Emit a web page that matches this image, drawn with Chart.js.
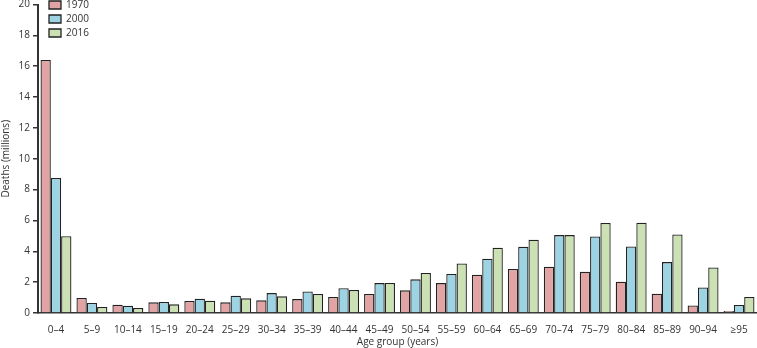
<!DOCTYPE html>
<html>
<head>
<meta charset="utf-8">
<script src="https://cdn.jsdelivr.net/npm/chart.js@4/dist/chart.umd.min.js"></script>
<style>
html,body{margin:0;padding:0;background:#fff;}
#wrap{width:757px;height:348px;position:relative;}
</style>
</head>
<body>
<div id="wrap"><canvas id="c" width="757" height="348"></canvas></div>
<script>
const categories = ["0–4","5–9","10–14","15–19","20–24","25–29","30–34","35–39","40–44","45–49","50–54","55–59","60–64","65–69","70–74","75–79","80–84","85–89","90–94","≥95"];
const deaths1970 = [16.4,0.97,0.54,0.69,0.78,0.69,0.82,0.90,1.04,1.23,1.47,1.94,2.48,2.85,3.00,2.67,2.03,1.25,0.49,0.13];
const deaths2000 = [8.75,0.65,0.47,0.71,0.93,1.12,1.29,1.40,1.60,1.94,2.18,2.53,3.52,4.29,5.05,4.96,4.31,3.30,1.66,0.52];
const deaths2016 = [4.98,0.39,0.32,0.56,0.80,0.95,1.08,1.23,1.49,1.95,2.59,3.21,4.23,4.75,5.05,5.83,5.85,5.09,2.95,1.04];
const yTicks = [0,2,4,6,8,10,12,14,16,18,20];

const FONT = "'Open Sans', 'Noto Sans', sans-serif";
const AX = '#333333';

const legendShift = {
  id: 'legendShift',
  afterLayout(chart) {
    const lg = chart.legend;
    if (lg) { lg.left = chart.chartArea.left + 7; lg.top = chart.chartArea.top - 8.5; }
  }
};

new Chart(document.getElementById('c'), {
  type: 'bar',
  data: {
    labels: categories,
    datasets: [
      {label:'1970', data: deaths1970, backgroundColor:'#e1a3a3', borderColor:'#222', borderWidth:1.3},
      {label:'2000', data: deaths2000, backgroundColor:'#9dd4e4', borderColor:'#222', borderWidth:1.3},
      {label:'2016', data: deaths2016, backgroundColor:'#cbe1b3', borderColor:'#222', borderWidth:1.3}
    ]
  },
  plugins: [legendShift],
  options: {
    responsive: false,
    animation: false,
    layout: {padding: {top: 0, right: 0, left: 0, bottom: 0}},
    datasets: {bar: {categoryPercentage: 0.86, barPercentage: 1.0}},
    plugins: {
      tooltip: {enabled:false},
      legend: {
        position: 'chartArea',
        align: 'start',
        labels: {
          font: {family: FONT, size: 10},
          color: AX,
          boxWidth: 12,
          boxHeight: 8,
          padding: 4,
          useBorderRadius: false
        }
      }
    },
    scales: {
      x: {
        grid: {display: false, drawTicks: true, tickLength: 6, color: AX, offset: true},
        border: {display: true, color: AX, width: 1.5},
        ticks: {font: {family: FONT, size: 10}, color: AX, padding: 5, maxRotation: 0, autoSkip: false},
        title: {display: true, text: 'Age group (years)', font: {family: FONT, size: 10}, color: AX, padding: {top: 0, bottom: 0}},
        afterFit: (s) => { s.height = 35; }
      },
      y: {
        min: 0, max: 20,
        afterBuildTicks: (s) => { s.ticks = yTicks.map(v => ({value: v})); },
        grid: {display: true, drawOnChartArea: false, drawTicks: true, tickLength: 5, color: AX, lineWidth: 1.5},
        border: {display: true, color: AX, width: 2},
        ticks: {font: {family: FONT, size: 10}, color: AX, padding: 3},
        title: {display: true, text: 'Deaths (millions)', font: {family: FONT, size: 10}, color: AX, padding: {top: 0, bottom: 2}},
        afterFit: (s) => { s.width = 38; s.paddingTop = 4.5; }
      }
    }
  }
});
</script>
</body>
</html>
